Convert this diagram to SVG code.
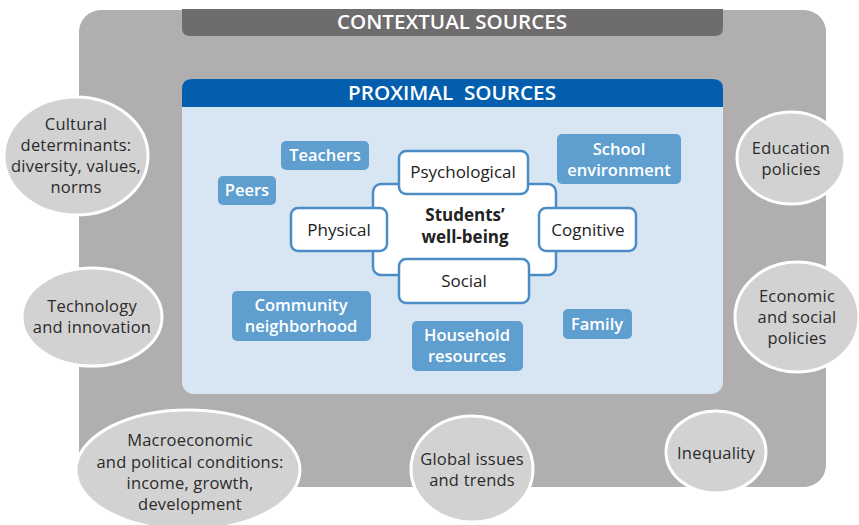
<svg xmlns="http://www.w3.org/2000/svg" width="859" height="525" viewBox="0 0 859 525">
<style>
.t{font-family:"Open Sans","Liberation Sans",sans-serif;text-anchor:middle}
.hdr{font-size:19px;font-weight:600;fill:#fff}
.ell{fill:#d3d2d2;stroke:#fff;stroke-width:3}
.et{font-size:16.5px;fill:#2b2b2b;letter-spacing:0.2px}
.bb{fill:#5f9fd0}
.bt{font-size:16.5px;font-weight:600;fill:#fff}
.wn{fill:#fff;stroke:#4b8cc5;stroke-width:2.5}
.nt{font-size:17px;fill:#222}
</style>
<rect width="859" height="525" fill="#fff"/>
<g id="contextual">
<rect x="79" y="10" width="747" height="477" rx="22" fill="#b0aeaf"/>
<path d="M182 9 H723 V28 Q723 36 715 36 H190 Q182 36 182 28 Z" fill="#6e6c6d"/>
<text class="t hdr" x="452" y="29" textLength="230" lengthAdjust="spacingAndGlyphs">CONTEXTUAL SOURCES</text>
</g>
<g id="proximal">
<rect x="182" y="79" width="541" height="315" rx="12" fill="#d8e6f3"/>
<path d="M182 107 V89 Q182 79 192 79 H713 Q723 79 723 89 V107 Z" fill="#035fae"/>
<text class="t hdr" x="452" y="100" xml:space="preserve" textLength="208" lengthAdjust="spacingAndGlyphs">PROXIMAL  SOURCES</text>
</g>
<g id="connectors"></g>
<g id="teachers"><rect class="bb" x="281" y="141" width="88" height="29" rx="5"/><text class="t bt" x="325" y="161">Teachers</text></g>
<g id="peers"><rect class="bb" x="218" y="176" width="58" height="29" rx="5"/><text class="t bt" x="247" y="196">Peers</text></g>
<g id="school"><rect class="bb" x="557" y="134" width="124" height="50" rx="5"/><text class="t bt" x="619" y="155">School</text><text class="t bt" x="619" y="176">environment</text></g>
<g id="community"><rect class="bb" x="232" y="291" width="139" height="50" rx="5"/><text class="t bt" x="301" y="311">Community</text><text class="t bt" x="301" y="332">neighborhood</text></g>
<g id="household"><rect class="bb" x="412" y="321" width="111" height="50" rx="5"/><text class="t bt" x="467" y="341">Household</text><text class="t bt" x="467" y="362">resources</text></g>
<g id="family"><rect class="bb" x="563" y="309" width="69" height="30" rx="5"/><text class="t bt" x="597" y="330">Family</text></g>
<g id="wellbeing">
<rect class="wn" x="373" y="184" width="183" height="91" rx="8"/>
<text class="t" x="465" y="221" style="font-size:17px;font-weight:700;fill:#222">Students’</text>
<text class="t" x="465" y="243" style="font-size:17px;font-weight:700;fill:#222">well-being</text>
</g>
<g id="psychological"><rect class="wn" x="399" y="151" width="129" height="43" rx="7"/><text class="t nt" x="463" y="178">Psychological</text></g>
<g id="physical"><rect class="wn" x="291" y="208" width="96" height="43" rx="7"/><text class="t nt" x="339" y="236">Physical</text></g>
<g id="cognitive"><rect class="wn" x="539" y="208" width="97" height="43" rx="7"/><text class="t nt" x="588" y="236">Cognitive</text></g>
<g id="social"><rect class="wn" x="399" y="259" width="130" height="44" rx="7"/><text class="t nt" x="464" y="287">Social</text></g>
<g id="cultural"><ellipse class="ell" cx="76" cy="156" rx="72" ry="59"/>
<text class="t et" x="76" y="130">Cultural</text><text class="t et" x="76" y="151">determinants:</text><text class="t et" x="76" y="172">diversity, values,</text><text class="t et" x="76" y="193">norms</text></g>
<g id="technology"><ellipse class="ell" cx="92" cy="317" rx="70" ry="49"/>
<text class="t et" x="92" y="312">Technology</text><text class="t et" x="92" y="333">and innovation</text></g>
<g id="education"><ellipse class="ell" cx="791" cy="158" rx="54" ry="46"/>
<text class="t et" x="791" y="154">Education</text><text class="t et" x="791" y="175">policies</text></g>
<g id="economic"><ellipse class="ell" cx="797" cy="317" rx="62" ry="55"/>
<text class="t et" x="797" y="302">Economic</text><text class="t et" x="797" y="323">and social</text><text class="t et" x="797" y="344">policies</text></g>
<g id="macro"><ellipse class="ell" cx="188" cy="470" rx="112" ry="60"/>
<text class="t et" x="190" y="446">Macroeconomic</text><text class="t et" x="190" y="468">and political conditions:</text><text class="t et" x="190" y="489">income, growth,</text><text class="t et" x="190" y="510">development</text></g>
<g id="global"><ellipse class="ell" cx="472" cy="469" rx="61" ry="53"/>
<text class="t et" x="472" y="465">Global issues</text><text class="t et" x="472" y="486">and trends</text></g>
<g id="inequality"><ellipse class="ell" cx="716" cy="452" rx="50" ry="41"/>
<text class="t et" x="716" y="459">Inequality</text></g>
</svg>
